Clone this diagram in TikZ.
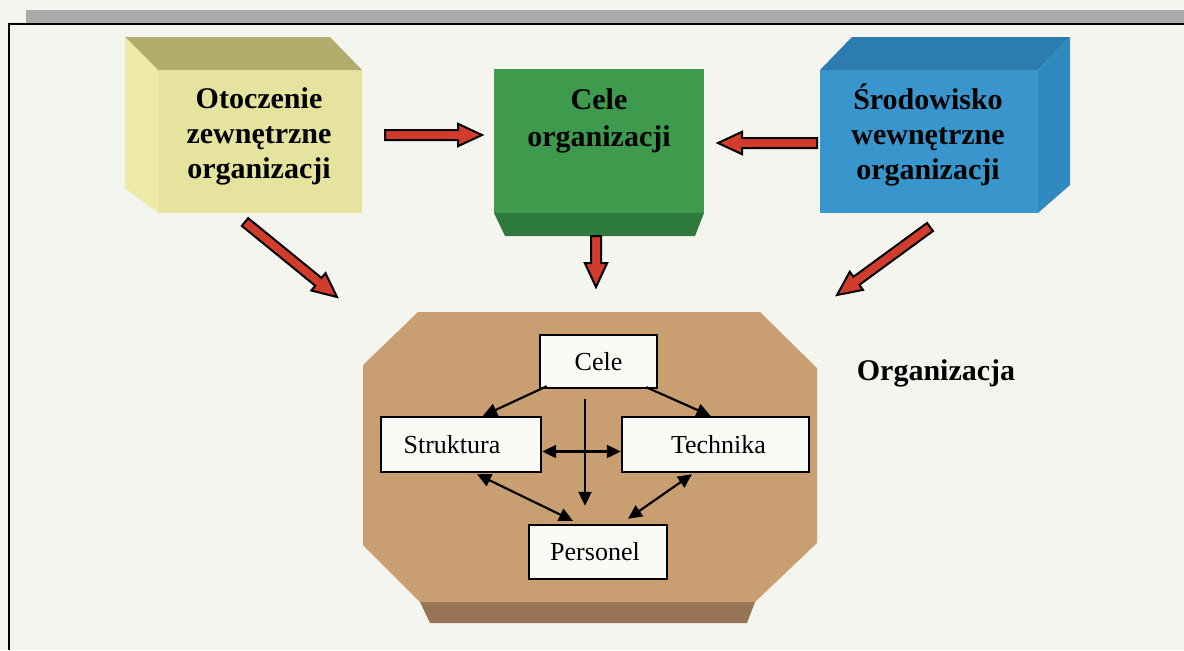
\documentclass[tikz,border=0pt]{standalone}
\usepackage{fontspec}
\setmainfont{Liberation Serif}
\usetikzlibrary{calc,arrows.meta}

\definecolor{paper}{RGB}{245,245,240}
\definecolor{framegray}{RGB}{170,170,170}
\definecolor{yelfront}{RGB}{230,227,158}
\definecolor{yelside}{RGB}{238,235,168}
\definecolor{yeltop}{RGB}{180,172,108}
\definecolor{grnfront}{RGB}{62,154,76}
\definecolor{grnbottom}{RGB}{46,122,60}
\definecolor{blufront}{RGB}{56,150,205}
\definecolor{bluside}{RGB}{48,138,192}
\definecolor{blutop}{RGB}{44,124,176}
\definecolor{brownface}{RGB}{201,159,113}
\definecolor{brownband}{RGB}{152,116,86}
\definecolor{arrowred}{RGB}{210,60,45}
\definecolor{boxwhite}{RGB}{250,250,247}

% block arrow from tail #1 to tip #2
\newcommand{\blockarrow}[2]{%
  \coordinate (ba-n) at ($(#2)!12pt!(#1)$);
  \filldraw[redarrow]
    ($(#1)!2.5pt!90:(#2)$) -- ($(ba-n)!2.5pt!-90:(#1)$) -- ($(ba-n)!5.6pt!-90:(#1)$)
    -- (#2) -- ($(ba-n)!5.6pt!90:(#1)$) -- ($(ba-n)!2.5pt!90:(#1)$)
    -- ($(#1)!2.5pt!-90:(#2)$) -- cycle;
}

\tikzset{
  face/.style={inner sep=0pt, outer sep=0pt},
  boldtxt/.style={font=\fontsize{15}{17.5}\selectfont\bfseries, align=center, inner sep=0pt},
  inbox/.style={draw=black, line width=1.2pt, fill=boxwhite, inner sep=0pt,
    font=\fontsize{13}{15}\selectfont},
  redarrow/.style={fill=arrowred, draw=black, line width=1pt, line join=miter},
  tip/.style={Triangle[length=7pt,width=6.5pt]},
  link/.style={line width=1.1pt, -{Triangle[length=7pt,width=6.5pt]}},
  biglink/.style={line width=1.1pt, {Triangle[length=7pt,width=6.5pt]}-{Triangle[length=7pt,width=6.5pt]}},
}

\begin{document}
\begin{tikzpicture}[x=0.5pt, y=-0.5pt]
\useasboundingbox (0,0) rectangle (1184,650);
\fill[paper] (0,0) rectangle (1184,650);

% page frame
\fill[framegray] (26,10) rectangle (1184,23);
\draw[line width=1pt] (9,650) -- (9,24) -- (1184,24);

% --- outer environment block (yellow) ---
\node[face, fill=yelfront, minimum width=102pt, minimum height=71.5pt] (oto) at (260,141.5) {};
\fill[yeltop] (oto.north west) -- ($(oto.north west)+(-33,-33)$) -- ($(oto.north east)+(-32,-33)$) -- (oto.north east) -- cycle;
\fill[yelside] (oto.north west) -- ($(oto.north west)+(-33,-33)$) -- ($(oto.south west)+(-33,-25)$) -- (oto.south west) -- cycle;
\node[boldtxt] (oto-t) at (259,136) {Otoczenie\\zewnętrzne\\organizacji};

% --- goals block (green) ---
\node[face, fill=grnfront, minimum width=105pt, minimum height=72pt] (cel) at (599,141) {};
\fill[grnbottom] (cel.south west) -- (cel.south east) -- ($(cel.south east)+(-9,23)$) -- ($(cel.south west)+(11,23)$) -- cycle;
\node[boldtxt, font=\fontsize{15}{18.5}\selectfont\bfseries] (cel-t) at (599,120.5) {Cele\\organizacji};

% --- internal environment block (blue) ---
\node[face, fill=blufront, minimum width=109pt, minimum height=71.5pt] (sro) at (929,141.5) {};
\fill[blutop] (sro.north west) -- ($(sro.north west)+(32,-33)$) -- ($(sro.north east)+(32,-33)$) -- (sro.north east) -- cycle;
\fill[bluside] (sro.north east) -- ($(sro.north east)+(32,-33)$) -- ($(sro.south east)+(32,-28)$) -- (sro.south east) -- cycle;
\node[boldtxt] (sro-t) at (928,135) {Środowisko\\wewnętrzne\\organizacji};

% --- organisation (brown octagonal slab) ---
\coordinate (o1) at (418,312);
\coordinate (o2) at (760,312);
\coordinate (o3) at (817,368);
\coordinate (o4) at (817,543);
\coordinate (o5) at (755,602);
\coordinate (o6) at (420,602);
\coordinate (o7) at (363,545);
\coordinate (o8) at (363,365);
\fill[brownband] (o6) -- (o5) -- (747,623) -- (430,623) -- cycle;
\fill[brownface] (o1) -- (o2) -- (o3) -- (o4) -- (o5) -- (o6) -- (o7) -- (o8) -- cycle;

\node[boldtxt] (org) at (936,373) {Organizacja};

% inner elements
\node[inbox, minimum width=58.5pt, minimum height=26.5pt] (ic) at (598.5,361.5) {Cele};
\node[inbox, minimum width=80pt, minimum height=27.5pt] (is) at (461,444.5) {\hspace*{-9pt}Struktura};
\node[inbox, minimum width=93.5pt, minimum height=27.5pt] (it) at (715.5,444.5) {\hspace*{3pt}Technika};
\node[inbox, minimum width=69pt, minimum height=27pt] (ip) at (598,552) {\hspace*{-3pt}Personel};

% inner links
\draw[link] ($(ic.south west)+(8,-3)$) -- ($(is.north)+(22,0)$);
\draw[link] ($(ic.south east)+(-12,-2)$) -- ($(it.north)+(-5,0)$);
\draw[link] ($(ic.south)+(-13.5,10)$) -- ($(ip.north)+(-13,-18)$);
\draw[biglink] ($(is.east)+(0,7)$) -- ($(it.west)+(0,7)$);
\draw[biglink] ($(is.south)+(16,1)$) -- ($(ip.north)+(-25,-3)$);
\draw[biglink] ($(it.south)+(-23.5,1)$) -- ($(ip.north)+(30,-5)$);

% influence arrows
\coordinate (a1s) at ($(oto.east)+(23,-6.5)$);
\coordinate (a1e) at ($(cel.west)+(-12,-6)$);
\coordinate (a2s) at ($(sro.west)+(-3,1.5)$);
\coordinate (a2e) at ($(cel.east)+(14,2)$);
\coordinate (a3s) at ($(oto.south)+(-15,9)$);
\coordinate (a3e) at (337,297);
\coordinate (a4s) at ($(sro.south)+(1,14)$);
\coordinate (a4e) at (837,295);
\coordinate (a5s) at (596,236);
\coordinate (a5e) at (596,287);
\blockarrow{a1s}{a1e}
\blockarrow{a2s}{a2e}
\blockarrow{a3s}{a3e}
\blockarrow{a4s}{a4e}
\blockarrow{a5s}{a5e}
\end{tikzpicture}
\end{document}
